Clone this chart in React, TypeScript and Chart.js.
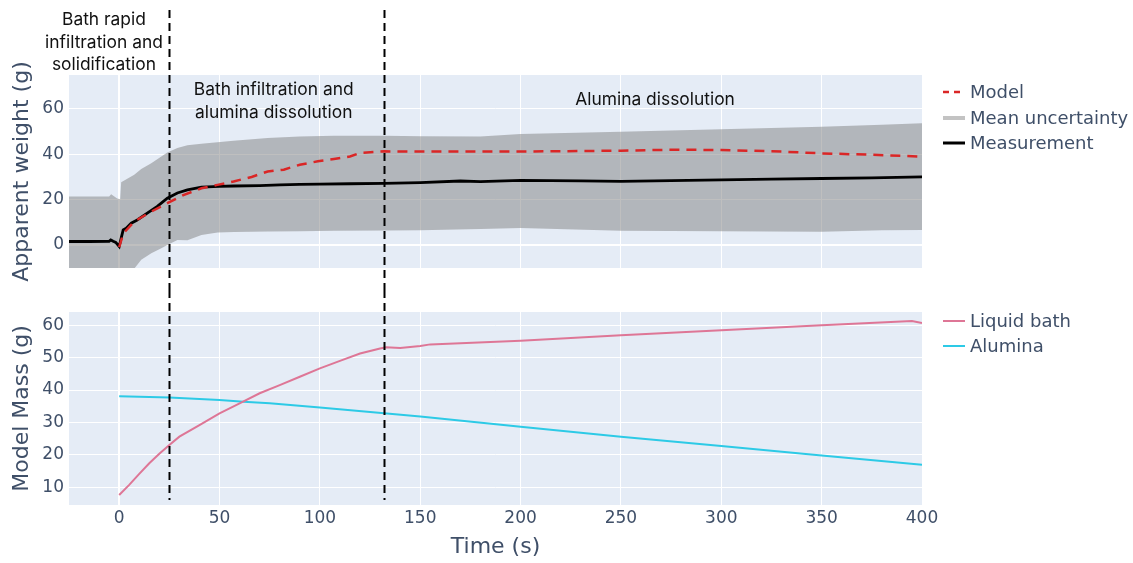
import React, { useEffect, useRef } from 'react';
import { Chart, registerables } from 'chart.js';

Chart.register(...registerables);

// ---------- data ----------
const measTime = [-25, -15, -5, -4.2, -3, -1.7, 0, 1, 2, 3.5, 6, 9, 14, 19, 24, 29, 34, 41, 50, 57, 70, 80, 90, 100, 115, 132, 150, 170, 180, 200, 230, 250, 275, 300, 325, 350, 375, 400];
const measurement = [1.5, 1.5, 1.6, 2.2, 1.6, 1.1, -0.7, 3, 6.6, 7.4, 9.6, 11, 14, 17, 20.6, 22.9, 24.3, 25.5, 25.8, 26, 26.2, 26.5, 26.7, 26.8, 27, 27.2, 27.5, 28.2, 27.9, 28.5, 28.3, 28, 28.4, 28.7, 29, 29.3, 29.6, 30];

const modelTime = [0, 2, 7.5, 16, 24, 32, 41, 49, 57, 66, 74, 82, 90, 99, 107, 115, 120, 132, 150, 200, 250, 275, 300, 330, 350, 375, 400];
const model = [-1, 5, 10.3, 14.7, 18.4, 22, 25, 26.5, 28, 30, 32.4, 33.2, 35.4, 36.9, 37.9, 39, 40.6, 41.3, 41.2, 41.2, 41.6, 42, 41.9, 41.2, 40.4, 39.8, 39];

const bandTime = [-25, -5, -4, -1, 0.5, 1, 7.5, 11, 16, 21, 24, 29, 34, 41, 49, 57, 74, 90, 107, 132, 150, 180, 200, 250, 300, 350, 380, 400];
const bandUpper = [21.4, 21.4, 22.4, 20.5, 20.2, 27.6, 31, 33.5, 36, 39, 40.8, 42.8, 44, 44.7, 45.3, 46, 47.2, 47.9, 48.2, 48.2, 48, 47.8, 49, 50, 51, 52.2, 53, 53.7];
const bandLower = [-15, -15, -15, -15, -15, -15, -10.5, -6.6, -3.7, -1.5, 0, 2.2, 2, 4.4, 5.5, 5.7, 5.9, 6, 6.2, 6.3, 6.5, 7, 7.5, 6.2, 6.0, 5.8, 6.5, 6.6];

const bathTime = [0, 5, 10, 15, 20, 25, 30, 40, 50, 60, 70, 80, 90, 100, 110, 120, 130, 133, 140, 150, 155, 200, 250, 300, 350, 395, 400];
const liquidBath = [7.6, 10.7, 14.1, 17.4, 20.3, 23, 25.6, 29.2, 32.8, 35.9, 39, 41.5, 44.1, 46.7, 49, 51.3, 52.8, 53.2, 53, 53.6, 54.1, 55.2, 56.9, 58.5, 60, 61.3, 60.7];

const aluminaTime = [0, 25, 50, 62, 75, 100, 132, 150, 200, 250, 300, 350, 400];
const alumina = [38.1, 37.7, 36.9, 36.4, 35.9, 34.6, 32.8, 31.8, 28.7, 25.6, 22.7, 19.8, 16.9];

const xTicks = [0, 50, 100, 150, 200, 250, 300, 350, 400];
const yTicksTop = [0, 20, 40, 60];
const yTicksBottom = [10, 20, 30, 40, 50, 60];
const phaseBoundaries = [25, 132];

const phaseLabels = [
  { x: -7.6, lines: ['Bath rapid', 'infiltration and', 'solidification'], top: 20 },
  { x: 77, lines: ['Bath infiltration and', 'alumina dissolution'], top: 90 },
  { x: 267, lines: ['Alumina dissolution'], top: 100 },
];

// ---------- styles ----------
const PLOT_BG = '#E5ECF6';
const TICK_COLOR = '#3f4f68';
const FONT = '"DejaVu Sans", Verdana, sans-serif';
const NOTE_FONT = 'Inter, "Noto Sans", sans-serif';
const RED = 'rgb(218,38,38)';
const PINK = 'rgb(222,118,150)';
const CYAN = 'rgb(45,202,230)';
const BAND = 'rgba(128,128,128,0.5)';

const pts = (t: number[], v: number[]) => t.map((x, i) => ({ x, y: v[i] }));

type LegendItem = { label: string; color: string; dash: number[]; width: number; y: number };

const topLegend: LegendItem[] = [
  { label: 'Model', color: RED, dash: [6, 5], width: 2.5, y: 92 },
  { label: 'Mean uncertainty', color: 'rgb(195,195,195)', dash: [], width: 4, y: 118 },
  { label: 'Measurement', color: '#000', dash: [], width: 3, y: 143 },
];
const bottomLegend: LegendItem[] = [
  { label: 'Liquid bath', color: PINK, dash: [], width: 2, y: 31 },
  { label: 'Alumina', color: CYAN, dash: [], width: 2, y: 56 },
];

const bgPlugin = {
  id: 'plotBg',
  beforeDraw(chart: any) {
    const { ctx, chartArea: a } = chart;
    ctx.save();
    ctx.fillStyle = PLOT_BG;
    ctx.fillRect(a.left, a.top, a.right - a.left, a.bottom - a.top);
    ctx.restore();
  },
};

function makeOverlay(legend: LegendItem[], lineTop: (c: any) => number, lineBottom: (c: any) => number, notes: boolean) {
  return {
    id: 'overlay',
    afterDraw(chart: any) {
      const { ctx } = chart;
      const xs = chart.scales.x;
      ctx.save();
      // phase boundary lines
      ctx.strokeStyle = '#000';
      ctx.lineWidth = 2;
      ctx.setLineDash([8, 5]);
      phaseBoundaries.forEach((v) => {
        const px = Math.round(xs.getPixelForValue(v)) + 0.5;
        ctx.beginPath();
        ctx.moveTo(px, lineTop(chart));
        ctx.lineTo(px, lineBottom(chart));
        ctx.stroke();
      });
      ctx.setLineDash([]);
      // phase notes
      if (notes) {
        ctx.fillStyle = '#111';
        ctx.font = `17.4px ${NOTE_FONT}`;
        ctx.textAlign = 'center';
        ctx.textBaseline = 'middle';
        phaseLabels.forEach((p) => {
          const px = xs.getPixelForValue(p.x);
          p.lines.forEach((l, i) => ctx.fillText(l, px, p.top + i * 22.5));
        });
      }
      // legend
      const x0 = chart.chartArea.right + 21;
      ctx.font = `18px ${FONT}`;
      ctx.textAlign = 'left';
      ctx.textBaseline = 'middle';
      legend.forEach((it) => {
        ctx.strokeStyle = it.color;
        ctx.lineWidth = it.width;
        ctx.setLineDash(it.dash);
        ctx.beginPath();
        ctx.moveTo(x0, it.y);
        ctx.lineTo(x0 + 22, it.y);
        ctx.stroke();
        ctx.setLineDash([]);
        ctx.fillStyle = TICK_COLOR;
        ctx.fillText(it.label, x0 + 27, it.y + 1);
      });
      ctx.restore();
    },
  };
}

const gridOpts = {
  color: '#ffffff',
  drawTicks: false,
  lineWidth: (c: any) => (c.tick && c.tick.value === 0 ? 2 : 1),
};

function yAxis(min: number, max: number, ticks: number[], title: string) {
  return {
    type: 'linear',
    min,
    max,
    afterBuildTicks: (s: any) => {
      s.ticks = ticks.map((v) => ({ value: v }));
    },
    afterFit: (s: any) => {
      s.width = 69;
    },
    ticks: { color: TICK_COLOR, font: { family: FONT, size: 17 }, padding: 5 },
    grid: gridOpts,
    border: { display: false },
    title: {
      display: true,
      text: title,
      color: TICK_COLOR,
      font: { family: FONT, size: 22 },
      padding: { top: 9, bottom: 0 },
    },
  };
}

function xAxis(showLabels: boolean, height: number) {
  return {
    type: 'linear',
    min: -25,
    max: 400,
    afterBuildTicks: (s: any) => {
      s.ticks = xTicks.map((v) => ({ value: v }));
    },
    afterFit: (s: any) => {
      s.height = height;
    },
    ticks: { display: showLabels, color: TICK_COLOR, font: { family: FONT, size: 17 }, padding: 3 },
    grid: gridOpts,
    border: { display: false },
    title: {
      display: showLabels,
      text: 'Time (s)',
      color: TICK_COLOR,
      font: { family: FONT, size: 22 },
      padding: { top: 0, bottom: 3 },
    },
  };
}

export default function App() {
  const topRef = useRef<HTMLCanvasElement>(null);
  const botRef = useRef<HTMLCanvasElement>(null);

  useEffect(() => {
    const line = { pointRadius: 0, tension: 0, fill: false };
    const top = new Chart(topRef.current as HTMLCanvasElement, {
      type: 'line',
      data: {
        datasets: [
          { ...line, label: 'Model', data: pts(modelTime, model), borderColor: RED, borderWidth: 2.5, borderDash: [10, 7] },
          { ...line, label: 'Measurement', data: pts(measTime, measurement), borderColor: '#000', borderWidth: 2.8 },
          { ...line, label: 'lower', data: pts(bandTime, bandLower), borderWidth: 0, borderColor: 'rgba(0,0,0,0)' },
          { ...line, label: 'Mean uncertainty', data: pts(bandTime, bandUpper), borderWidth: 0, borderColor: 'rgba(0,0,0,0)', backgroundColor: BAND, fill: '-1' },
        ],
      },
      options: {
        animation: false,
        responsive: false,
        layout: { padding: { left: 0, right: 211, top: 75, bottom: 0 } },
        plugins: { legend: { display: false }, tooltip: { enabled: false } },
        scales: { x: xAxis(false, 22), y: yAxis(-10.2, 75, yTicksTop, 'Apparent weight (g)') } as any,
      },
      plugins: [bgPlugin, makeOverlay(topLegend, () => 10, (c) => c.height, true)],
    } as any);

    const bot = new Chart(botRef.current as HTMLCanvasElement, {
      type: 'line',
      data: {
        datasets: [
          { ...line, label: 'Liquid bath', data: pts(bathTime, liquidBath), borderColor: PINK, borderWidth: 2 },
          { ...line, label: 'Alumina', data: pts(aluminaTime, alumina), borderColor: CYAN, borderWidth: 2 },
        ],
      },
      options: {
        animation: false,
        responsive: false,
        layout: { padding: { left: 0, right: 211, top: 22, bottom: 0 } },
        plugins: { legend: { display: false }, tooltip: { enabled: false } },
        scales: { x: xAxis(true, 58), y: yAxis(4.5, 64.1, yTicksBottom, 'Model Mass (g)') } as any,
      },
      plugins: [bgPlugin, makeOverlay(bottomLegend, () => 0, (c) => c.chartArea.bottom - 5, false)],
    } as any);

    return () => {
      top.destroy();
      bot.destroy();
    };
  }, []);

  return (
    <div style={{ position: 'absolute', left: 0, top: 0, width: 1133, height: 563, background: '#fff' }}>
      <canvas ref={topRef} width={1133} height={290} style={{ position: 'absolute', left: 0, top: 0, display: 'block' }} />
      <canvas ref={botRef} width={1133} height={273} style={{ position: 'absolute', left: 0, top: 290, display: 'block' }} />
    </div>
  );
}
